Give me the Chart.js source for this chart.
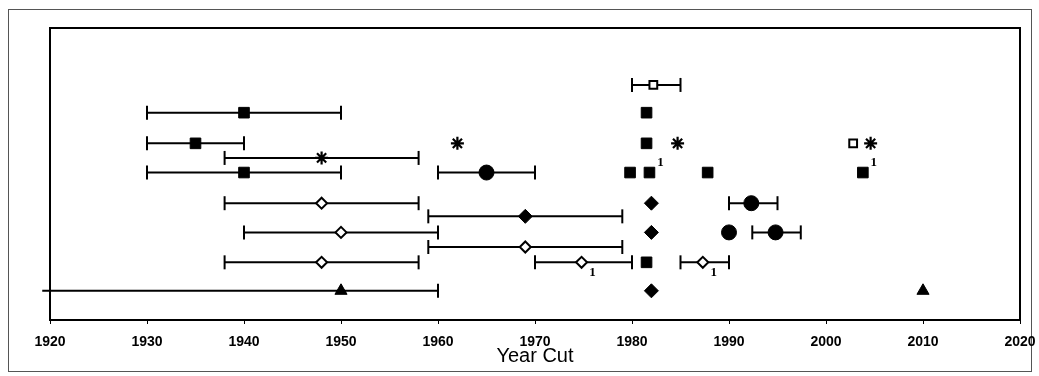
<!DOCTYPE html>
<html>
<head>
<meta charset="utf-8">
<script src="https://cdn.jsdelivr.net/npm/chart.js@4.4.1/dist/chart.umd.min.js"></script>
<style>
html,body{margin:0;padding:0;background:#fff;}
canvas{display:block;}
</style>
</head>
<body>
<canvas id="c" width="1039" height="376"></canvas>
<script>
// ---------- DATA ----------
const yearTicks = [1920, 1930, 1940, 1950, 1960, 1970, 1980, 1990, 2000, 2010, 2020];
const axisTitle = 'Year Cut';

// vertical position of each row (row index -> y value, top to bottom)
const rowPositions = [3.9, 5.8, 7.9, 8.9, 9.9, 12, 12.9, 14, 15, 16.05, 18];

// filled squares
const filledSquareYears = [1940, 1981.5, 1935, 1981.5, 1940, 1979.8, 1981.8, 1987.8, 2003.8, 1981.5];
const filledSquareRows  = [1, 1, 2, 2, 4, 4, 4, 4, 4, 9];
// open squares
const openSquareYears = [1982.2, 2002.8];
const openSquareRows  = [0, 2];
// stars
const starYears = [1962, 1984.7, 2004.6, 1948];
const starRows  = [2, 2, 2, 3];
// filled circles
const circleYears = [1965, 1992.3, 1990, 1994.8];
const circleRows  = [4, 5, 7, 7];
// open diamonds
const openDiamondYears = [1948, 1950, 1969, 1948, 1974.8, 1987.3];
const openDiamondRows  = [5, 7, 8, 9, 9, 9];
// filled diamonds
const filledDiamondYears = [1982, 1969, 1982, 1982];
const filledDiamondRows  = [5, 6, 7, 10];
// triangles
const triangleYears = [1950, 2010];
const triangleRows  = [10, 10];

// error bars (ranges)
const errRows = [0, 1, 2, 3, 4, 4, 5, 5, 6, 7, 7, 8, 9, 9, 9, 10];
const errLow  = [1980, 1930, 1930, 1938, 1930, 1960, 1938, 1990, 1959, 1940, 1992.4, 1959, 1938, 1970, 1985, 1919.2];
const errHigh = [1985, 1950, 1940, 1958, 1950, 1970, 1958, 1995, 1979, 1960, 1997.4, 1979, 1958, 1980, 1990, 1960];

// footnote marks
const superNoteYears = [1981.8, 2003.8];
const superNoteRows  = [4, 4];
const subNoteYears = [1974.8, 1987.3];
const subNoteRows  = [9, 9];
const noteText = '1';

// ---------- BUILD ----------
const X_MIN = yearTicks[0], X_MAX = yearTicks[yearTicks.length - 1];
const pts = (years, rows) => years.map((y, i) => ({x: y, y: rowPositions[rows[i]]}));

function markerSet(years, rows, style, radius, filled, bw) {
  return {
    type: 'scatter',
    data: pts(years, rows),
    pointStyle: style,
    pointRadius: radius,
    pointHoverRadius: radius,
    pointBackgroundColor: filled ? '#000' : '#fff',
    pointBorderColor: '#000',
    pointBorderWidth: bw,
    order: 1,
    clip: false
  };
}

const datasets = [];
errRows.forEach((r, i) => {
  const data = [{x: errLow[i], y: rowPositions[r]}, {x: errHigh[i], y: rowPositions[r]}];
  datasets.push({
    type: 'line',
    data,
    showLine: true,
    borderColor: '#000',
    borderWidth: 2,
    pointStyle: 'line',
    pointRotation: 90,
    pointRadius: data.map(p => (p.x < X_MIN ? 0 : 7)),
    pointBorderColor: '#000',
    pointBorderWidth: 2,
    fill: false,
    order: 2,
    clip: false
  });
});
datasets.push(markerSet(filledSquareYears, filledSquareRows, 'rect', 7.5, true, 1));
datasets.push(markerSet(openSquareYears, openSquareRows, 'rect', 5.5, false, 2));
datasets.push(markerSet(starYears, starRows, 'star', 6.5, false, 2.2));
datasets.push(markerSet(circleYears, circleRows, 'circle', 7.5, true, 1));
datasets.push(markerSet(openDiamondYears, openDiamondRows, 'rectRot', 5.5, false, 2));
datasets.push(markerSet(filledDiamondYears, filledDiamondRows, 'rectRot', 7, true, 1));
datasets.push(markerSet(triangleYears, triangleRows, 'triangle', 7, true, 1));

const framePlugin = {
  id: 'frame',
  beforeDraw(chart) {
    const ctx = chart.ctx;
    ctx.save();
    ctx.fillStyle = '#fff';
    ctx.fillRect(0, 0, chart.width, chart.height);
    ctx.strokeStyle = '#555';
    ctx.lineWidth = 1;
    ctx.strokeRect(8.5, 9.5, chart.width - 16, chart.height - 14);
    ctx.restore();
  },
  beforeDatasetsDraw(chart) {
    const {ctx, chartArea: a} = chart;
    ctx.save();
    ctx.strokeStyle = '#000';
    ctx.lineWidth = 2;
    ctx.strokeRect(a.left, a.top, a.right - a.left, a.bottom - a.top);
    ctx.restore();
  },
  afterDatasetsDraw(chart) {
    const {ctx, scales: {x, y}} = chart;
    ctx.save();
    ctx.fillStyle = '#000';
    ctx.font = 'bold 13px "Liberation Serif", serif';
    ctx.textAlign = 'center';
    ctx.textBaseline = 'middle';
    superNoteYears.forEach((yr, i) => {
      ctx.fillText(noteText, x.getPixelForValue(yr) + 11, y.getPixelForValue(rowPositions[superNoteRows[i]]) - 10);
    });
    subNoteYears.forEach((yr, i) => {
      ctx.fillText(noteText, x.getPixelForValue(yr) + 11, y.getPixelForValue(rowPositions[subNoteRows[i]]) + 10);
    });
    ctx.restore();
  }
};

new Chart(document.getElementById('c'), {
  type: 'scatter',
  data: {datasets},
  plugins: [framePlugin],
  options: {
    responsive: false,
    animation: false,
    events: [],
    layout: {padding: {left: 50, right: 19, top: 28, bottom: 0}},
    plugins: {legend: {display: false}, tooltip: {enabled: false}},
    scales: {
      x: {
        type: 'linear',
        min: X_MIN,
        max: X_MAX,
        afterBuildTicks: s => { s.ticks = yearTicks.map(v => ({value: v})); },
        afterFit: s => { s.height = 56; s.paddingLeft = 0; s.paddingRight = 0; },
        grid: {display: true, drawOnChartArea: false, drawTicks: true, tickLength: 4, color: '#000', lineWidth: 1},
        border: {display: true, color: '#000', width: 2},
        ticks: {
          color: '#000',
          padding: 10,
          maxRotation: 0,
          autoSkip: false,
          font: {family: '"Liberation Sans", Arial, sans-serif', size: 14, weight: 'bold'},
          callback: v => String(v)
        },
        title: {
          display: true,
          text: axisTitle,
          color: '#000',
          padding: {top: 0, bottom: 8},
          font: {family: '"Liberation Sans", Arial, sans-serif', size: 20}
        }
      },
      y: {
        type: 'linear',
        display: false,
        reverse: true,
        min: 0,
        max: 20
      }
    }
  }
});
</script>
</body>
</html>
